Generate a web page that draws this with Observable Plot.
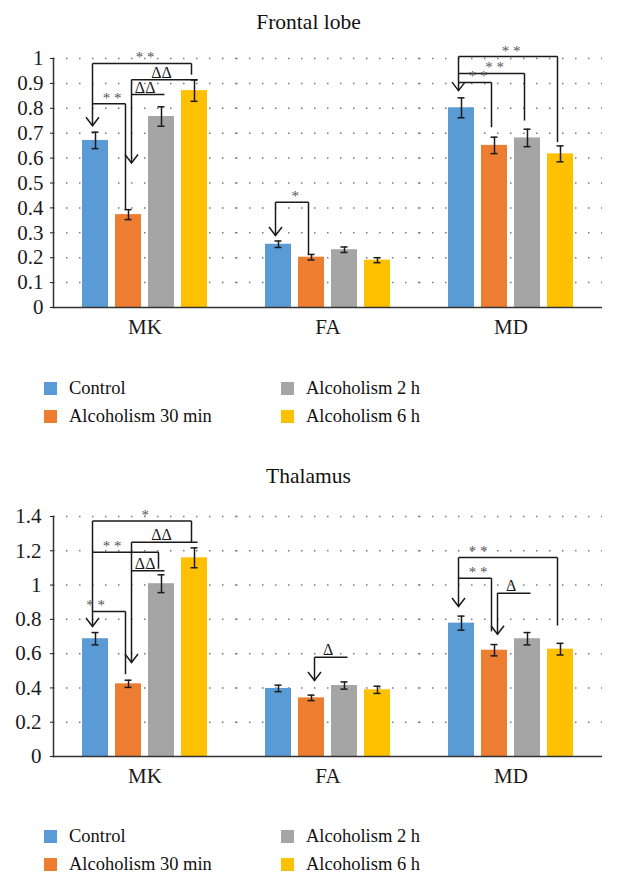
<!DOCTYPE html>
<html>
<head>
<meta charset="utf-8">
<script src="https://cdn.jsdelivr.net/npm/d3@7"></script>
<script src="https://cdn.jsdelivr.net/npm/@observablehq/plot@0.6"></script>
<style>
  body { margin: 0; background: #fff; font-family: "Liberation Serif", "Tinos", "Times New Roman", "DejaVu Serif", serif; color: #111; width: 617px; }
  .title { text-align: center; font-size: 21.5px; height: 44px; line-height: 44px; }
  .legend { display: grid; grid-template-columns: 237px 237px; grid-template-rows: 28px 28px; grid-auto-flow: column; padding-left: 44px; font-size: 18.5px; }
  .item { display: flex; align-items: center; white-space: nowrap; }
  .sw { width: 13px; height: 13px; margin-right: 12px; flex: none; }
  svg { display: block; }
</style>
</head>
<body>
<div id="root"></div>
<script>
// ---------- categories ----------
const metrics = ["MK", "FA", "MD"];
const series = ["Control", "Alcoholism 30 min", "Alcoholism 2 h", "Alcoholism 6 h"];
const seriesColors = ["#5B9BD5", "#ED7D31", "#A5A5A5", "#FFC000"];

// ---------- Frontal lobe (values per metric: MK, FA, MD) ----------
const frontalTicks = [0, 0.1, 0.2, 0.3, 0.4, 0.5, 0.6, 0.7, 0.8, 0.9, 1];
const frontalControl = [0.671, 0.254, 0.802];
const frontal30min   = [0.373, 0.202, 0.651];
const frontal2h      = [0.767, 0.232, 0.681];
const frontal6h      = [0.871, 0.190, 0.617];
const frontalControlErr = [0.033, 0.013, 0.040];
const frontal30minErr   = [0.020, 0.011, 0.033];
const frontal2hErr      = [0.039, 0.011, 0.035];
const frontal6hErr      = [0.043, 0.010, 0.032];

// ---------- Thalamus ----------
const thalamusTicks = [0, 0.2, 0.4, 0.6, 0.8, 1, 1.2, 1.4];
const thalamusControl = [0.687, 0.397, 0.778];
const thalamus30min   = [0.424, 0.342, 0.620];
const thalamus2h      = [1.008, 0.414, 0.687];
const thalamus6h      = [1.159, 0.389, 0.626];
const thalamusControlErr = [0.036, 0.019, 0.041];
const thalamus30minErr   = [0.021, 0.016, 0.033];
const thalamus2hErr      = [0.052, 0.021, 0.036];
const thalamus6hErr      = [0.058, 0.021, 0.034];

// ---------- significance annotations ----------
const frontalLines = [
  {metric: "MK", from: "Control", to: "Alcoholism 6 h", y: 0.98},
  {metric: "MK", from: "Control", to: "Alcoholism 30 min", y: 0.818},
  {metric: "MK", from: "Alcoholism 30 min", to: "Alcoholism 6 h", y: 0.915},
  {metric: "MK", from: "Alcoholism 30 min", to: "Alcoholism 2 h", y: 0.855},
  {metric: "FA", from: "Control", to: "Alcoholism 30 min", y: 0.423},
  {metric: "MD", from: "Control", to: "Alcoholism 6 h", y: 1.008},
  {metric: "MD", from: "Control", to: "Alcoholism 2 h", y: 0.94},
  {metric: "MD", from: "Control", to: "Alcoholism 30 min", y: 0.904}
];
const frontalArrows = [
  {metric: "MK", at: "Control", top: 0.98, tip: 0.73},
  {metric: "MK", at: "Alcoholism 30 min", top: 0.915, tip: 0.58},
  {metric: "FA", at: "Control", top: 0.423, tip: 0.289},
  {metric: "MD", at: "Control", top: 1.008, tip: 0.871}
];
const frontalLegs = [
  {metric: "MK", at: "Alcoholism 6 h", top: 0.98, bottom: 0.935},
  {metric: "MK", at: "Alcoholism 30 min", top: 0.818, bottom: 0.393},
  {metric: "FA", at: "Alcoholism 30 min", top: 0.423, bottom: 0.215},
  {metric: "MD", at: "Alcoholism 6 h", top: 1.008, bottom: 0.664},
  {metric: "MD", at: "Alcoholism 2 h", top: 0.94, bottom: 0.751},
  {metric: "MD", at: "Alcoholism 30 min", top: 0.904, bottom: 0.724}
];
const frontalMarks = [
  {metric: "MK", at: "Alcoholism 30 min", mid: true, y: 0.98, text: "* *"},
  {metric: "MK", at: "Alcoholism 2 h", mid: false, y: 0.915, text: "ΔΔ"},
  {metric: "MK", at: "Alcoholism 30 min", mid: true, y: 0.855, text: "ΔΔ"},
  {metric: "MK", at: "Control", mid: true, y: 0.818, text: "* *"},
  {metric: "FA", at: "Control", mid: true, y: 0.423, text: "*"},
  {metric: "MD", at: "Alcoholism 30 min", mid: true, y: 1.008, text: "* *"},
  {metric: "MD", at: "Alcoholism 30 min", mid: false, y: 0.94, text: "* *"},
  {metric: "MD", at: "Control", mid: true, y: 0.904, text: "* *"}
];

const thalamusLines = [
  {metric: "MK", from: "Control", to: "Alcoholism 6 h", y: 1.374},
  {metric: "MK", from: "Alcoholism 30 min", to: "Alcoholism 6 h", y: 1.25},
  {metric: "MK", from: "Control", to: "Alcoholism 2 h", y: 1.192},
  {metric: "MK", from: "Alcoholism 30 min", to: "Alcoholism 2 h", y: 1.083},
  {metric: "MK", from: "Control", to: "Alcoholism 30 min", y: 0.846},
  {metric: "FA", from: "Alcoholism 30 min", to: "Alcoholism 2 h", y: 0.579},
  {metric: "MD", from: "Control", to: "Alcoholism 6 h", y: 1.161},
  {metric: "MD", from: "Control", to: "Alcoholism 30 min", y: 1.04},
  {metric: "MD", from: "Alcoholism 30 min", to: "Alcoholism 2 h", y: 0.953}
];
const thalamusArrows = [
  {metric: "MK", at: "Control", top: 1.374, tip: 0.758},
  {metric: "MK", at: "Alcoholism 30 min", top: 1.25, tip: 0.548},
  {metric: "FA", at: "Alcoholism 30 min", top: 0.579, tip: 0.443},
  {metric: "MD", at: "Control", top: 1.161, tip: 0.875},
  {metric: "MD", at: "Alcoholism 30 min", top: 0.953, tip: 0.713}
];
const thalamusLegs = [
  {metric: "MK", at: "Alcoholism 6 h", top: 1.374, bottom: 1.25},
  {metric: "MK", at: "Alcoholism 2 h", top: 1.192, bottom: 1.095},
  {metric: "MK", at: "Alcoholism 30 min", top: 0.846, bottom: 0.48},
  {metric: "MD", at: "Alcoholism 6 h", top: 1.161, bottom: 0.764},
  {metric: "MD", at: "Alcoholism 30 min", top: 1.04, bottom: 0.73}
];
const thalamusMarks = [
  {metric: "MK", at: "Alcoholism 30 min", mid: true, y: 1.374, text: "*"},
  {metric: "MK", at: "Alcoholism 2 h", mid: false, y: 1.25, text: "ΔΔ"},
  {metric: "MK", at: "Control", mid: true, y: 1.192, text: "* *"},
  {metric: "MK", at: "Alcoholism 30 min", mid: true, y: 1.083, text: "ΔΔ"},
  {metric: "MK", at: "Control", mid: false, y: 0.846, text: "* *"},
  {metric: "FA", at: "Alcoholism 30 min", mid: true, y: 0.579, text: "Δ"},
  {metric: "MD", at: "Control", mid: true, y: 1.161, text: "* *"},
  {metric: "MD", at: "Control", mid: true, y: 1.04, text: "* *"},
  {metric: "MD", at: "Alcoholism 30 min", mid: true, y: 0.953, text: "Δ"}
];

// ---------- helpers ----------
function toRows(valueArrays, errArrays) {
  const rows = [];
  metrics.forEach((m, j) => {
    series.forEach((s, i) => {
      rows.push({metric: m, series: s, value: valueArrays[i][j], err: errArrays[i][j]});
    });
  });
  return rows;
}

const W = 617, ML = 52, MR = 14, MB = 40;
const PI = 0.21, PO = 0.865;
const step = (W - ML - MR) / metrics.length / (series.length - PI + 2 * PO);
const INK = "#1a1a1a";
const FONT = "'Liberation Serif', Tinos, 'Times New Roman', 'DejaVu Serif', serif";
const ctrlDx = -3, otherDx = 3, legDx = -3;
const isCtrl = (s) => s === series[0];
const vSymbol = {
  draw(ctx) { ctx.moveTo(-6.5, -8.5); ctx.lineTo(0, 0); ctx.lineTo(6.5, -8.5); }
};

function chart({rows, ticks, ymax, lines, arrows, legs, marks, marginTop, plotH, tickPadding}) {
  const height = marginTop + plotH + MB;
  const fxo = {fx: "metric"};
  const lineStyle = {stroke: INK, strokeWidth: 1.5};
  const ast = marks.filter(d => d.text.includes("*"));
  const del = marks.filter(d => !d.text.includes("*"));
  return Plot.plot({
    width: W, height, marginLeft: ML, marginRight: MR, marginTop, marginBottom: MB,
    style: {fontFamily: FONT, fontSize: "21px", color: INK, background: "#fff"},
    fx: {domain: metrics, padding: 0, label: null},
    x: {domain: series, paddingInner: PI, paddingOuter: PO, axis: null},
    y: {domain: [0, ymax], axis: null},
    color: {domain: series, range: seriesColors},
    marks: [
      Plot.ruleY(ticks.filter(t => t > 0), {stroke: "#7a7a7a", strokeWidth: 1.5, strokeDasharray: "1.5 11.5"}),
      Plot.barY(rows, {...fxo, x: "series", y: "value", fill: "series"}),
      Plot.ruleX(rows, {...fxo, x: "series", y1: d => d.value - d.err, y2: d => d.value + d.err, ...lineStyle}),
      Plot.tickY(rows, {...fxo, x: "series", y: d => d.value - d.err, inset: 9.5, ...lineStyle}),
      Plot.tickY(rows, {...fxo, x: "series", y: d => d.value + d.err, inset: 9.5, ...lineStyle}),
      Plot.ruleY([0], {stroke: "#333", strokeWidth: 1.5}),
      Plot.frame({anchor: "left", facetAnchor: "left", stroke: "#333", strokeWidth: 1.5}),
      Plot.axisY(ticks, {tickSize: 3, tickPadding, tickFormat: "~g", fontSize: 21, fontFamily: FONT, label: null}),
      Plot.axisFx({anchor: "bottom", tickSize: 0, tickPadding: 12, fontSize: 21, fontFamily: FONT, label: null}),
      // brackets
      Plot.link(lines.filter(d => isCtrl(d.from)), {...fxo, x1: "from", x2: "to", y1: "y", y2: "y", dx: ctrlDx, ...lineStyle}),
      Plot.link(lines.filter(d => !isCtrl(d.from)), {...fxo, x1: "from", x2: "to", y1: "y", y2: "y", dx: otherDx, ...lineStyle}),
      Plot.link(legs, {...fxo, x1: "at", x2: "at", y1: "top", y2: "bottom", dx: legDx, ...lineStyle}),
      Plot.link(arrows.filter(d => isCtrl(d.at)), {...fxo, x1: "at", x2: "at", y1: "top", y2: "tip", dx: ctrlDx, ...lineStyle}),
      Plot.link(arrows.filter(d => !isCtrl(d.at)), {...fxo, x1: "at", x2: "at", y1: "top", y2: "tip", dx: otherDx, ...lineStyle}),
      Plot.dot(arrows.filter(d => isCtrl(d.at)), {...fxo, x: "at", y: "tip", symbol: vSymbol, fill: "none", dx: ctrlDx, ...lineStyle}),
      Plot.dot(arrows.filter(d => !isCtrl(d.at)), {...fxo, x: "at", y: "tip", symbol: vSymbol, fill: "none", dx: otherDx, ...lineStyle}),
      // labels
      Plot.text(ast.filter(d => d.mid), {...fxo, x: "at", y: "y", text: "text", dx: step / 2, dy: -1, lineAnchor: "bottom", fontSize: 15, fontFamily: FONT, fill: "#555"}),
      Plot.text(ast.filter(d => !d.mid), {...fxo, x: "at", y: "y", text: "text", dy: -1, lineAnchor: "bottom", fontSize: 15, fontFamily: FONT, fill: "#555"}),
      Plot.text(del.filter(d => d.mid), {...fxo, x: "at", y: "y", text: "text", dx: step / 2, dy: -2, lineAnchor: "bottom", fontSize: 16, fontFamily: FONT, fill: INK}),
      Plot.text(del.filter(d => !d.mid), {...fxo, x: "at", y: "y", text: "text", dy: -2, lineAnchor: "bottom", fontSize: 16, fontFamily: FONT, fill: INK})
    ]
  });
}

function legend() {
  const div = document.createElement("div");
  div.className = "legend";
  series.forEach((s, i) => {
    const item = document.createElement("div");
    item.className = "item";
    const sw = document.createElement("span");
    sw.className = "sw";
    sw.style.background = seriesColors[i];
    item.appendChild(sw);
    item.appendChild(document.createTextNode(s));
    div.appendChild(item);
  });
  return div;
}

function title(text, top) {
  const d = document.createElement("div");
  d.className = "title";
  d.textContent = text;
  d.style.marginTop = top + "px";
  return d;
}

const root = document.getElementById("root");
root.appendChild(title("Frontal lobe", 0));
root.appendChild(chart({
  rows: toRows([frontalControl, frontal30min, frontal2h, frontal6h], [frontalControlErr, frontal30minErr, frontal2hErr, frontal6hErr]),
  ticks: frontalTicks, ymax: 1, lines: frontalLines, arrows: frontalArrows, legs: frontalLegs, marks: frontalMarks,
  marginTop: 14, plotH: 249, tickPadding: 7
}));
const lg1 = legend(); lg1.style.paddingTop = "27px"; root.appendChild(lg1);
root.appendChild(title("Thalamus", 23.5));
root.appendChild(chart({
  rows: toRows([thalamusControl, thalamus30min, thalamus2h, thalamus6h], [thalamusControlErr, thalamus30minErr, thalamus2hErr, thalamus6hErr]),
  ticks: thalamusTicks, ymax: 1.4, lines: thalamusLines, arrows: thalamusArrows, legs: thalamusLegs, marks: thalamusMarks,
  marginTop: 18, plotH: 240, tickPadding: 9
}));
const lg2 = legend(); lg2.style.paddingTop = "27px"; root.appendChild(lg2);
</script>
</body>
</html>
